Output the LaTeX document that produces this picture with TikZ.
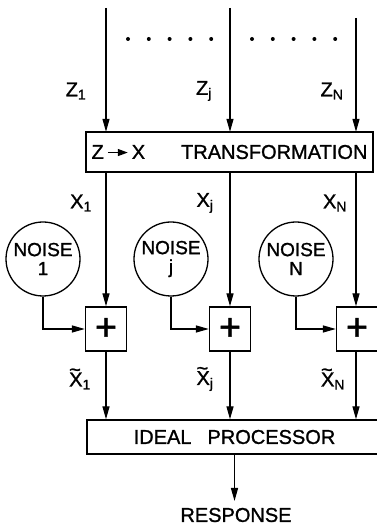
\documentclass[tikz,border=0pt]{standalone}
\usepackage{fontspec}
\setmainfont{Liberation Sans}[FakeBold=1.2]
\usetikzlibrary{arrows.meta,positioning,calc}
\newcommand{\tildeX}{\rlap{\raisebox{10pt}{\textasciitilde}}X}

\begin{document}
\begin{tikzpicture}[x=1pt,y=1pt,line width=1.3pt,
  sig/.style={-{Triangle[length=13pt,width=7pt]}},
  lbl/.style={font=\fontsize{20}{22}\selectfont, inner sep=0pt},
  blockbox/.style={draw, inner sep=0pt, font=\fontsize{20}{22}\selectfont},
  noisenode/.style={draw, circle, minimum size=74pt, inner sep=0pt, align=center, font=\fontsize{19}{19}\selectfont},
  sumbox/.style={draw, minimum width=41pt, minimum height=44pt, inner sep=0pt, font=\fontsize{38}{38}\selectfont}]
  \useasboundingbox (0,0) rectangle (376,527);

  % Inputs
  \coordinate (z1) at (106,519);
  \coordinate (zj) at (230,519);
  \coordinate (zN) at (356,509);
  \foreach \d in {0,...,4} {
    \fill (128+20.8*\d,488) circle (2);
    \fill (252+20.8*\d,488) circle (2);
  }
  \node[lbl] (zlab1) at (76,436) {Z\textsubscript{1}};
  \node[lbl] (zlabj) at (204,436) {Z\textsubscript{j}};
  \node[lbl] (zlabN) at (332,436) {Z\textsubscript{N}};

  % Transformation block
  \node[blockbox, minimum width=287pt, minimum height=40pt] (trans) at (229.5,375) {%
    Z\,\tikz[baseline=-0.6ex]\draw[line width=1.3pt,-{Triangle[length=10pt,width=7pt]}] (0,0) -- (20pt,0);\,X\hspace{36pt}TRANSFORMATION};
  \draw[sig] (z1) -- (z1 |- trans.north);
  \draw[sig] (zj) -- (zj |- trans.north);
  \draw[sig] (zN) -- (zN |- trans.north);

  \node[lbl] (xlab1) at (81,324) {X\textsubscript{1}};
  \node[lbl] (xlabj) at (205,324) {X\textsubscript{j}};
  \node[lbl] (xlabN) at (335,324) {X\textsubscript{N}};

  % Noise sources and adders
  \node[noisenode] (noise1) at (43,268) {NOISE\\1};
  \node[noisenode] (noisej) at (171,268) {NOISE\\j};
  \node[noisenode] (noiseN) at (296,268) {NOISE\\N};
  \node[sumbox] (sum1) at (106,198) {+};
  \node[sumbox] (sumj) at (230,198) {+};
  \node[sumbox] (sumN) at (357,198) {+};
  \draw[sig] (sum1 |- trans.south) -- (sum1.north);
  \draw[sig] (sumj |- trans.south) -- (sumj.north);
  \draw[sig] (zN |- trans.south) -- (zN |- sumN.north);
  \draw[sig] (noise1.south) |- (sum1.west);
  \draw[sig] (noisej.south) |- (sumj.west);
  \draw[sig] (noiseN.south) |- (sumN.west);

  \node[lbl] (xtlab1) at (80,148) {\tildeX\textsubscript{1}};
  \node[lbl] (xtlabj) at (205,148) {\tildeX\textsubscript{j}};
  \node[lbl] (xtlabN) at (333,148) {\tildeX\textsubscript{N}};

  % Processor and response
  \node[blockbox, minimum width=295pt, minimum height=34pt] (ideal) at (234.5,90) {IDEAL\hspace{16pt}PROCESSOR};
  \draw[sig] (sum1.south) -- (sum1.south |- ideal.north);
  \draw[sig] (sumj.south) -- (sumj.south |- ideal.north);
  \draw[sig] (zN |- sumN.south) -- (zN |- ideal.north);
  \coordinate (resp) at (234.5,26);
  \draw[sig] (ideal.south) -- (resp);
  \node[lbl] (resplab) at (236,12) {RESPONSE};
\end{tikzpicture}
\end{document}
